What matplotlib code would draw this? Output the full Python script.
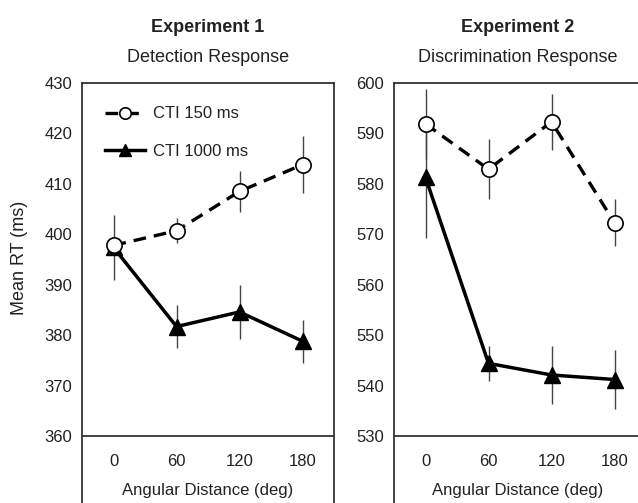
import matplotlib.pyplot as plt
import numpy as np

plt.rcParams['font.family'] = ['Liberation Sans', 'DejaVu Sans']

# data
angles = ['0', '60', '120', '180']

exp1_cti150 = [397.8, 400.7, 408.5, 413.8]
exp1_cti150_err = [1.5, 2.5, 4.0, 5.7]
exp1_cti1000 = [397.4, 381.7, 384.6, 378.8]
exp1_cti1000_err = [6.5, 4.3, 5.3, 4.3]

exp2_cti150 = [591.9, 582.9, 592.3, 572.3]
exp2_cti150_err = [7.0, 6.0, 5.6, 4.6]
exp2_cti1000 = [581.3, 544.4, 542.1, 541.2]
exp2_cti1000_err = [12.0, 3.4, 5.8, 5.9]

txt = '#222222'
edge = '#333333'

W, H = 638, 503
fig = plt.figure(figsize=(W / 100, H / 100), dpi=100)

px_per_unit = 353 / 70.0
below = (503 - 436) / px_per_unit


def panel(left_px, right_px, ymin, ymax, s150, e150, s1000, e1000, legend, hide_right):
    ax = fig.add_axes([left_px / W, 0, (right_px - left_px) / W, 1 - 83 / H])
    x = np.arange(len(angles))
    ax.errorbar(x, s150, yerr=e150, fmt='none', ecolor='#444444', elinewidth=1.0, zorder=1)
    ax.errorbar(x, s1000, yerr=e1000, fmt='none', ecolor='#444444', elinewidth=1.0, zorder=1)
    ax.plot(x, s150, color='black', lw=2.4, dashes=[3.8, 2.4], marker='o', ms=11,
            mfc='white', mec='black', mew=1.2, label='CTI 150 ms', zorder=3)
    ax.plot(x, s1000, color='black', lw=2.5, marker='^', ms=11,
            mfc='black', mec='black', label='CTI 1000 ms', zorder=2)
    ax.set_ylim(ymin - below, ymax)
    ax.set_xlim(-0.5, -0.5 + (right_px - left_px) / 63.0)
    ax.set_yticks(np.arange(ymin, ymax + 1, 10))
    ax.set_xticks([])
    ax.tick_params(axis='y', length=0, pad=7, labelsize=12, labelcolor=txt)
    ax.axhline(ymin, color=edge, lw=1.3)
    ax.spines['bottom'].set_visible(False)
    for s in ['left', 'right', 'top']:
        ax.spines[s].set_color(edge)
        ax.spines[s].set_linewidth(1.3)
    if hide_right:
        ax.spines['right'].set_visible(False)
    y_tick = (503 - 461) / (503 - 83)
    for xi, lab in zip(x, angles):
        ax.text(xi, y_tick, lab, transform=ax.get_xaxis_transform(),
                ha='center', va='center', fontsize=12, color=txt)
    if legend:
        ax.legend(loc='upper left', frameon=False, fontsize=12, handlelength=2.4,
                  labelspacing=1.33, markerscale=0.75, borderaxespad=1.0,
                  handletextpad=0.45, labelcolor=txt)
    return ax


ax1 = panel(82, 334, 360, 430, exp1_cti150, exp1_cti150_err, exp1_cti1000, exp1_cti1000_err, True, False)
ax2 = panel(394, 638, 530, 600, exp2_cti150, exp2_cti150_err, exp2_cti1000, exp2_cti1000_err, False, True)

# titles and axis labels
fig.text(208 / W, 1 - 27 / H, 'Experiment 1', ha='center', va='center', fontsize=13,
         fontweight='bold', color=txt)
fig.text(208 / W, 1 - 58 / H, 'Detection Response', ha='center', va='center', fontsize=13, color=txt)
fig.text(518 / W, 1 - 27 / H, 'Experiment 2', ha='center', va='center', fontsize=13,
         fontweight='bold', color=txt)
fig.text(518 / W, 1 - 58 / H, 'Discrimination Response', ha='center', va='center', fontsize=13, color=txt)
fig.text(208 / W, 1 - 490 / H, 'Angular Distance (deg)', ha='center', va='center', fontsize=12, color=txt)
fig.text(518 / W, 1 - 490 / H, 'Angular Distance (deg)', ha='center', va='center', fontsize=12, color=txt)
fig.text(20 / W, 1 - 258 / H, 'Mean RT (ms)', ha='center', va='center', fontsize=13,
         rotation=90, color=txt)

fig.savefig('out.png', dpi=100)
